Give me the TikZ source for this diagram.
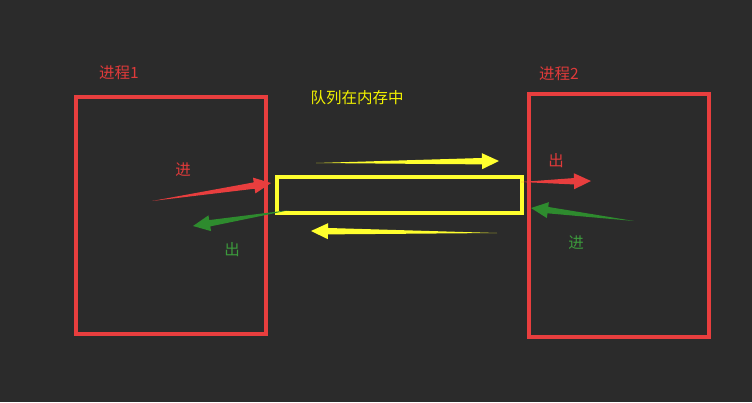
\documentclass[tikz,border=0pt]{standalone}
\usepackage{fontspec}
\newfontfamily\cjk{Noto Sans CJK SC}
\usetikzlibrary{calc}
\definecolor{bgdark}{HTML}{2B2B2B}
\definecolor{boxred}{HTML}{E83E3E}
\definecolor{txtred}{HTML}{E03A3A}
\definecolor{qyellow}{HTML}{FFFF2E}
\definecolor{txtyellow}{HTML}{F2F200}
\definecolor{arrgreen}{HTML}{2E8B2E}
\definecolor{txtgreen}{HTML}{3C9A3C}
% tapered arrow: tail (#2), tip (#3)
\def\wedgearrow[#1](#2)(#3){\fill[#1] (#2) -- ($(#3)!17pt!(#2)!3.2pt!90:(#3)$) -- ($(#3)!17pt!(#2)!8pt!90:(#3)$) -- (#3) -- ($(#3)!17pt!(#2)!8pt!-90:(#3)$) -- ($(#3)!17pt!(#2)!3.2pt!-90:(#3)$) -- cycle;}

\begin{document}
\begin{tikzpicture}[x=1pt,y=-1pt,
	procbox/.style={draw=boxred, line width=3.4pt},
	queuebox/.style={draw=qyellow, line width=3.4pt},
	lbl/.style={font=\cjk\fontsize{15.5}{15.5}\selectfont, inner sep=0pt}]
			%%%%% START %%%%%
			
			\fill[bgdark] (0,0) rectangle (752,402);
			
			% processes
			\draw[procbox] (76,97) rectangle (266,334);
			\draw[procbox] (529,94) rectangle (709,337);
			\node[lbl, text=txtred] (p1lbl) at (119,73) {进程1};
			\node[lbl, text=txtred] (p2lbl) at (559,74) {进程2};
			
			% queue
			\draw[queuebox] (277,177) rectangle (522,213);
			\node[lbl, text=txtyellow] (qlbl) at (357,98) {队列在内存中};
			
			% arrows
			\coordinate (in1a) at (152,201);  \coordinate (in1b) at (271,183);
			\coordinate (out1a) at (290,210); \coordinate (out1b) at (193,226);
			\coordinate (qtopa) at (316,163); \coordinate (qtopb) at (499,161);
			\coordinate (qbota) at (497,233); \coordinate (qbotb) at (311,231);
			\coordinate (out2a) at (521,182); \coordinate (out2b) at (591,181);
			\coordinate (in2a) at (634,221);  \coordinate (in2b) at (531,208);
			
			\wedgearrow[boxred](in1a)(in1b)
			\wedgearrow[arrgreen](out1a)(out1b)
			\wedgearrow[qyellow](qtopa)(qtopb)
			\wedgearrow[qyellow](qbota)(qbotb)
			\wedgearrow[boxred](out2a)(out2b)
			\wedgearrow[arrgreen](in2a)(in2b)
			
			\node[lbl, text=txtred] (in1) at (183,170) {进};
			\node[lbl, text=txtgreen] (out1) at (232,250) {出};
			\node[lbl, text=txtred] (out2) at (556,161) {出};
			\node[lbl, text=txtgreen] (in2) at (576,243) {进};
			
			%%%%% END %%%%%
		\end{tikzpicture}
\end{document}
